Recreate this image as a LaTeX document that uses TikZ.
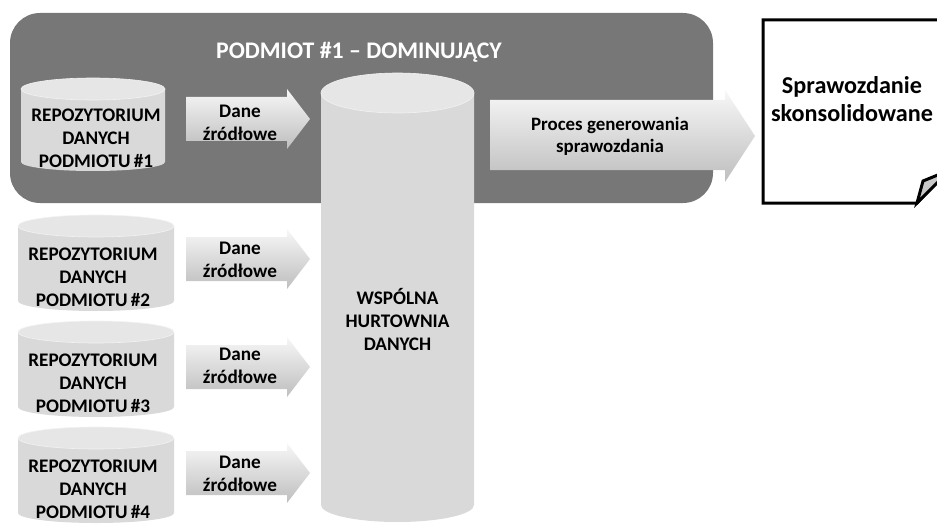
\documentclass[tikz,border=0pt]{standalone}
\usepackage{fontspec}
\setmainfont{Carlito}
\begin{document}
\begin{tikzpicture}[x=1pt,y=1pt,
  darkbox/.style={fill=boxgray, rounded corners=30pt},
  cylbody/.style={fill=cylgray},
  cyltop/.style={fill=cyltopgray, draw=cyledge, line width=0.6pt},
  arrowshade/.style={top color=arrtop, bottom color=arrbot, draw=none},
  titletext/.style={text=white, font=\fontsize{23.8}{28}\selectfont\bfseries, inner sep=0pt},
  cyltext/.style={align=center, font=\fontsize{19.2}{23}\selectfont\bfseries, text=black, inner sep=0pt},
  danetext/.style={align=center, font=\fontsize{19.2}{23}\selectfont\bfseries, text=black, inner sep=0pt},
  proctext/.style={align=center, font=\fontsize{18.9}{22}\selectfont\bfseries, text=black, inner sep=0pt},
  doctext/.style={align=center, font=\fontsize{24.2}{28}\selectfont\bfseries, text=black, inner sep=0pt},
  docline/.style={draw=black, line width=3pt, line join=miter}
]
\definecolor{boxgray}{HTML}{777777}
\definecolor{cylgray}{HTML}{D9D9D9}
\definecolor{cyltopgray}{HTML}{E6E6E6}
\definecolor{cyledge}{HTML}{F2F2F2}
\definecolor{arrtop}{HTML}{F7F7F7}
\definecolor{arrbot}{HTML}{BEBEBE}
\definecolor{flapgray}{HTML}{C8C8C8}

\newcommand{\mycyl}[6]{%
  \pgfmathsetmacro\mycx{(#1+#2)/2}%
  \pgfmathsetmacro\myrx{(#2-#1)/2}%
  \fill[cylbody] (#1,-#3-#5) -- (#1,-#4+#6)
     arc[start angle=180,end angle=360,x radius=\myrx,y radius=#6]
     -- (#2,-#3-#5) -- cycle;
  \path[cyltop] (\mycx,-#3-#5) ellipse[x radius=\myrx, y radius=#5];
}
\newcommand{\myarrow}[1]{%
  \shade[arrowshade] (186,-#1+22) -- (287,-#1+22) -- (287,-#1+30) -- (310,-#1)
     -- (287,-#1-30) -- (287,-#1-22) -- (186,-#1-22) -- cycle;
}

\useasboundingbox (0,0) rectangle (937,-524);
\clip (0,0) rectangle (937,-524);

% dominant entity box
\fill[darkbox] (10,-13) rectangle (713,-203);
\node[titletext] (title) at (359,-52) {PODMIOT \#1 – DOMINUJĄCY};

% repositories
\mycyl{21}{165}{78}{171}{11}{9}
\node[cyltext] (repo1) at (96,-138) {REPOZYTORIUM\\DANYCH\\PODMIOTU\,\#1};
\mycyl{18}{174}{215}{311}{11}{10}
\node[cyltext] (repo2) at (93,-277) {REPOZYTORIUM\\DANYCH\\PODMIOTU\,\#2};
\mycyl{18}{174}{321}{417}{11}{10}
\node[cyltext] (repo3) at (93,-383) {REPOZYTORIUM\\DANYCH\\PODMIOTU\,\#3};
\mycyl{18}{174}{427}{523}{11}{10}
\node[cyltext] (repo4) at (93,-489) {REPOZYTORIUM\\DANYCH\\PODMIOTU\,\#4};

% source data arrows
\myarrow{119}
\node[danetext] (dane1) at (240,-123) {Dane\\źródłowe};
\myarrow{259}
\node[danetext] (dane2) at (240,-260) {Dane\\źródłowe};
\myarrow{367}
\node[danetext] (dane3) at (240,-366) {Dane\\źródłowe};
\myarrow{473}
\node[danetext] (dane4) at (240,-474) {Dane\\źródłowe};

% common data warehouse
\mycyl{321}{474}{73}{522}{20}{17}
\node[cyltext] (dw) at (397.5,-320) {WSPÓLNA\\HURTOWNIA\\DANYCH};

% report generation arrow
\shade[arrowshade] (490,-100) -- (725,-100) -- (725,-90) -- (755,-136)
   -- (725,-182) -- (725,-170) -- (490,-170) -- cycle;
\node[proctext] (proc) at (610,-136) {Proces generowania\\sprawozdania};

% consolidated report document
\path[docline, fill=white] (950,-20) -- (763,-20) -- (763,-203) -- (917,-203) -- (950,-168);
\path[docline, fill=flapgray] (917,-203) -- (923,-181) -- (950,-170) -- cycle;
\node[doctext] (doc) at (852,-99) {Sprawozdanie\\skonsolidowane};
\end{tikzpicture}
\end{document}
